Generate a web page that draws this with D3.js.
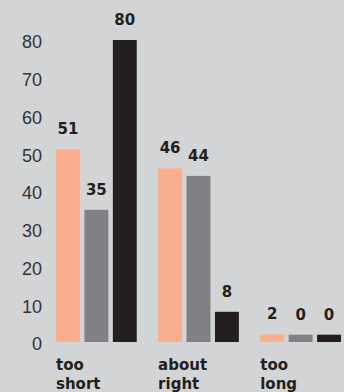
<!DOCTYPE html>
<html>
<head>
<meta charset="utf-8">
<script src="https://cdn.jsdelivr.net/npm/d3@7"></script>
<style>
  body { margin: 0; background: #d3d4d6; }
  svg { display: block; }
  .tick text { font-family: "Liberation Sans", Arial, sans-serif; font-size: 18px; fill: #333; }
  .val, .cat { font-family: "DejaVu Sans", sans-serif; font-weight: bold; font-size: 15px; fill: #231f20; }
</style>
</head>
<body>
<div id="container"></div>
<script>
// chart values
const categories = ["too short", "about right", "too long"]
const series = ["a", "b", "c"]
const valuesA = [51, 46, 2]
const valuesB = [35, 44, 0]
const valuesC = [80, 8, 0]
const yTicks = [0, 10, 20, 30, 40, 50, 60, 70, 80]

const colors = ["#f9ad8c", "#808184", "#231f20"]

const width = 344,
  height = 392,
  margin = { top: 40, bottom: 50, left: 56, right: 3 }

const data = categories.map((c, i) => ({
  cat: c,
  vals: [valuesA[i], valuesB[i], valuesC[i]]
}))

const svg = d3.select("#container")
  .append("svg")
  .attr("width", width)
  .attr("height", height)

svg.append("rect")
  .attr("width", width)
  .attr("height", height)
  .attr("fill", "#d3d4d6")

// scales
const x0 = d3.scaleBand()
  .domain(categories)
  .range([margin.left, width - margin.right])
  .paddingInner(0.209)
  .paddingOuter(0)

const x1 = d3.scaleBand()
  .domain(series)
  .range([0, x0.bandwidth()])
  .paddingInner(0.158)

const yScale = d3.scaleLinear()
  .domain([0, 80])
  .range([height - margin.bottom, margin.top])

// y axis, labels only
const yAxis = d3.axisLeft(yScale)
  .tickValues(yTicks)
  .tickSize(0)
  .tickPadding(0)

const yAxisGroup = svg.append("g")
  .attr("class", "yAxis")
  .attr("transform", `translate(42, 2)`)
  .call(yAxis)

yAxisGroup.select(".domain").remove()

// bars
const groups = svg.selectAll(".group")
  .data(data)
  .join("g")
  .attr("class", "group")
  .attr("transform", d => `translate(${x0(d.cat)}, 0)`)

const minH = 7.3
groups.selectAll("rect")
  .data(d => d.vals.map((v, j) => ({ v, s: series[j], j })))
  .join("rect")
  .attr("x", d => x1(d.s))
  .attr("width", x1.bandwidth())
  .attr("y", d => Math.min(yScale(d.v), yScale(0) - minH))
  .attr("height", d => Math.max(yScale(0) - yScale(d.v), minH))
  .attr("fill", d => colors[d.j])

// value labels
groups.selectAll(".val")
  .data(d => d.vals.map((v, j) => ({ v, s: series[j], j })))
  .join("text")
  .attr("class", "val")
  .attr("x", d => x1(d.s) + x1.bandwidth() / 2)
  .attr("y", d => Math.min(yScale(d.v), yScale(0) - minH) - 15)
  .attr("text-anchor", "middle")
  .text(d => d.v)

// category labels
groups.append("text")
  .attr("class", "cat")
  .attr("x", 0)
  .attr("y", 370)
  .selectAll("tspan")
  .data(d => d.cat.split(" "))
  .join("tspan")
  .attr("x", 0)
  .attr("dy", (d, i) => i === 0 ? 0 : 19)
  .text(d => d)
</script>
</body>
</html>
